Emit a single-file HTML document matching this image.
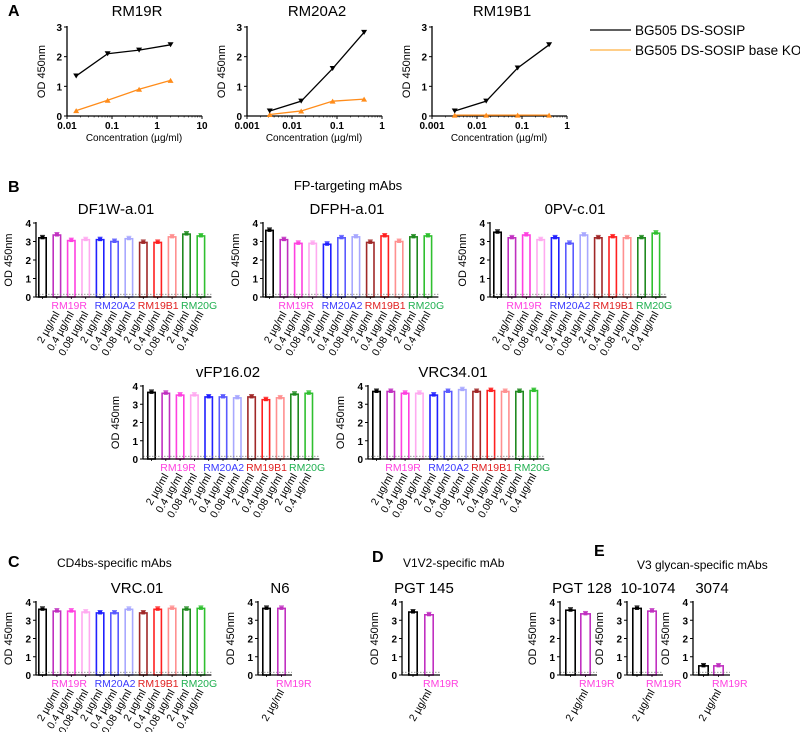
<!DOCTYPE html>
<html><head><meta charset="utf-8"><style>
html,body{margin:0;padding:0;background:#fff}
svg{display:block;font-family:"Liberation Sans",Arial,sans-serif}
</style></head><body>
<svg id="fig" width="800" height="732" viewBox="0 0 800 732"></svg>
<script>
// ---------- Panel A data ----------
const concRM19R = [0.016, 0.08, 0.4, 2];
const concLow = [0.0032, 0.016, 0.08, 0.4];
const rm19rWT = [1.35, 2.1, 2.22, 2.4];
const rm19rKO = [0.18, 0.53, 0.9, 1.2];
const rm20a2WT = [0.17, 0.5, 1.6, 2.82];
const rm20a2KO = [0.05, 0.17, 0.5, 0.57];
const rm19b1WT = [0.17, 0.5, 1.62, 2.4];
const rm19b1KO = [0.03, 0.03, 0.03, 0.03];
const ticksA1 = ["0.01","0.1","1","10"];
const ticksA2 = ["0.001","0.01","0.1","1"];
const yTicksA = [0,1,2,3];
// ---------- Bar data ----------
const concLabels = ["2 µg/ml","0.4 µg/ml","0.08 µg/ml","2 µg/ml","0.4 µg/ml","0.08 µg/ml","2 µg/ml","0.4 µg/ml","0.08 µg/ml","2 µg/ml","0.4 µg/ml"];
const groupNames = ["RM19R","RM20A2","RM19B1","RM20G"];
const groupStart = [1,4,7,10];
const yTicksB = [0,1,2,3,4];
const df1w = [3.2,3.35,3.05,3.1,3.1,3.0,3.15,2.95,2.95,3.25,3.4,3.3];
const dfph = [3.6,3.1,2.9,2.9,2.85,3.2,3.25,2.95,3.3,3.0,3.25,3.3];
const opv = [3.5,3.2,3.35,3.1,3.2,2.9,3.35,3.2,3.25,3.2,3.2,3.45];
const vfp16 = [3.65,3.6,3.5,3.5,3.4,3.4,3.35,3.4,3.25,3.35,3.55,3.6];
const vrc34 = [3.7,3.7,3.6,3.6,3.5,3.7,3.8,3.7,3.75,3.7,3.7,3.75];
const vrc01 = [3.6,3.5,3.5,3.45,3.4,3.4,3.6,3.4,3.6,3.65,3.6,3.65];
const n6 = [3.65,3.65];
const pgt145 = [3.45,3.3];
const pgt128 = [3.55,3.35];
const v101074 = [3.65,3.5];
const v3074 = [0.5,0.5];
const baseline = 0.15;

const NS="http://www.w3.org/2000/svg";
const svg=document.getElementById('fig');
function mk(tag,attrs,parent){const e=document.createElementNS(NS,tag);for(const k in attrs)e.setAttribute(k,attrs[k]);(parent||svg).appendChild(e);return e;}
function txt(s,x,y,size,opts,parent){opts=opts||{};const e=mk('text',{x:x,y:y,'font-size':size,'text-anchor':opts.anchor||'middle',fill:opts.fill||'#000','font-weight':opts.bold?'bold':'normal'},parent);if(opts.rot)e.setAttribute('transform','rotate('+opts.rot+' '+x+' '+y+')');if(opts.ls)e.setAttribute('letter-spacing',opts.ls);e.textContent=s;return e;}

const barColors=["#000","#c030c0","#ff40e0","#ffaaf0","#2020ff","#5a5aff","#a8a8ff","#a02828","#ff2020","#ff9090","#208a20","#30c030"];
const groupColors=["#ff40e0","#3a3aff","#e02020","#20b050"];

// ---------- headings ----------
function head(s,x,y,size,bold,name){const t=txt(s,x,y,size,{anchor:'start',bold:bold});}
head("A",8,16,16,true,'panel-a-label');
head("B",8,192,16,true,'panel-b-label');
head("C",8,567,16,true,'panel-c-label');
head("D",372,562,16,true,'panel-d-label');
head("E",594,556,16,true,'panel-e-label');
{const t=txt("FP-targeting mAbs",348,190,13);}
head("CD4bs-specific mAbs",57,567,12,false,'panel-c-heading');
head("V1V2-specific mAb",403,567,12,false,'panel-d-heading');
head("V3 glycan-specific mAbs",637,569,12,false,'panel-e-heading');

// ---------- line charts ----------
function lineChart(name,title,ax,decMin,ticks,xs,wt,ko){
  const g=mk('g',{});
  const y0=116,y3=27,dec=45;
  const X=v=>ax+(Math.log10(v)-decMin)*dec;
  const Y=v=>y0-(v/3)*(y0-y3);
  const tt=txt(title,ax+70,16,15,{},g);
  mk('line',{x1:ax,y1:y3-1,x2:ax,y2:y0,stroke:'#000','stroke-width':1.3},g);
  mk('line',{x1:ax,y1:y0,x2:ax+3*dec,y2:y0,stroke:'#000','stroke-width':1.3},g);
  yTicksA.forEach(v=>{mk('line',{x1:ax-3,y1:Y(v),x2:ax,y2:Y(v),stroke:'#000'},g);txt(String(v),ax-5,Y(v)+4,10,{anchor:'end',bold:true},g);});
  ticks.forEach((s,i)=>{const x=ax+i*dec;mk('line',{x1:x,y1:y0,x2:x,y2:y0+3,stroke:'#000'},g);txt(s,x,y0+13,10,{bold:true},g);
    for(let m=2;m<10&&i<ticks.length-1;m++){const xm=x+Math.log10(m)*dec;mk('line',{x1:xm,y1:y0,x2:xm,y2:y0+1.5,stroke:'#000','stroke-width':0.6},g);}});
  txt("Concentration (µg/ml)",ax+67,y0+25,10,{},g);
  txt("OD 450nm",ax-22,(y0+y3)/2,11,{rot:-90},g);
  const series=[[ko,'#ff8c1a','up'],[wt,'#000','down']];
  series.forEach(([vals,col,dir])=>{
    const pts=xs.map((c,i)=>X(c)+','+Y(vals[i])).join(' ');
    const pl=mk('polyline',{points:pts,fill:'none',stroke:col,'stroke-width':1.3},g);
    
    
    xs.forEach((c,i)=>{const x=X(c),y=Y(vals[i]);
      const p=dir==='down'?`${x-3},${y-2.5} ${x+3},${y-2.5} ${x},${y+2.5}`:`${x-3},${y+2.5} ${x+3},${y+2.5} ${x},${y-2.5}`;
      const m=mk('polygon',{points:p,fill:col},g);
      
      });
  });
}
lineChart('chart-rm19r',"RM19R",67,-2,ticksA1,concRM19R,rm19rWT,rm19rKO);
lineChart('chart-rm20a2',"RM20A2",247,-3,ticksA2,concLow,rm20a2WT,rm20a2KO);
lineChart('chart-rm19b1',"RM19B1",432,-3,ticksA2,concLow,rm19b1WT,rm19b1KO);
// legend
{const g=mk('g',{});
 mk('line',{x1:590,y1:30,x2:631,y2:30,stroke:'#000','stroke-width':1.3},g);
 txt("BG505 DS-SOSIP",635,35,13.5,{anchor:'start'},g);
 mk('line',{x1:590,y1:50,x2:631,y2:50,stroke:'#ffb040','stroke-width':1.3},g);
 txt("BG505 DS-SOSIP base KO",635,55,13.5,{anchor:'start'},g);}

// ---------- bar charts ----------
function barChart(name,title,titleX,ax,y0,y4,values,opts){
  opts=opts||{};
  const g=mk('g',{});
  const pitch=opts.pitch||14.4,bw=opts.bw||9,first=ax+(opts.gap||2);
  const Y=v=>y0-(v/4)*(y0-y4);
  const n=values.length;
  const end=first+(n-1)*pitch+bw+6;
  const tt=txt(title,titleX,y4-9,15,{},g);
  txt("OD 450nm",ax-24,(y0+y4)/2,11,{rot:-90},g);
  yTicksB.forEach(v=>{mk('line',{x1:ax-3,y1:Y(v),x2:ax,y2:Y(v),stroke:'#000'},g);txt(String(v),ax-5,Y(v)+4,10,{anchor:'end',bold:true},g);});
  values.forEach((v,i)=>{
    const x=first+i*pitch,col=barColors[i];
    const r=mk('rect',{x:x+0.8,y:Y(v),width:bw-1.6,height:y0-Y(v),fill:'none',stroke:col,'stroke-width':1.6},g);
    
    
    mk('rect',{x:x+bw/2-2,y:Y(v)-2,width:4,height:3.5,fill:col},g);
    mk('line',{x1:x+bw/2-2.5,y1:Y(v)-2.5,x2:x+bw/2+2.5,y2:Y(v)-2.5,stroke:col,'stroke-width':0.8},g);
    mk('line',{x1:x+bw/2,y1:y0,x2:x+bw/2,y2:y0+2,stroke:'#000','stroke-width':0.8},g);
    if(i>0){const lb=concLabels[i-1];const cx=x+bw/2+3,cy=y0+17;txt(lb,cx,cy,10.5,{anchor:'end',rot:-60},g);}
  });
  mk('line',{x1:ax,y1:Y(baseline),x2:end,y2:Y(baseline),stroke:'#777','stroke-width':0.8,'stroke-dasharray':'1.5,1.5'},g);
  mk('line',{x1:ax,y1:y4-1,x2:ax,y2:y0,stroke:'#000','stroke-width':1.3},g);
  mk('line',{x1:ax,y1:y0,x2:end,y2:y0,stroke:'#000','stroke-width':1.3},g);
  groupNames.forEach((s,k)=>{const i=groupStart[k];if(i<n){const gl=txt(s,first+i*pitch-1,y0+12,10.5,{anchor:'start',fill:groupColors[k]},g);}});
}
barChart('chart-df1w',"DF1W-a.01",116,36,297,223,df1w);
barChart('chart-dfph',"DFPH-a.01",347,263,297,223,dfph);
barChart('chart-0pv',"0PV-c.01",575,490,297,223,opv,{gap:3});
barChart('chart-vfp16',"vFP16.02",228,143,459,386,vfp16,{gap:4,pitch:14.3});
barChart('chart-vrc34',"VRC34.01",453,368,459,386,vrc34,{gap:4,pitch:14.3});
barChart('chart-vrc01',"VRC.01",137,36,675,602,vrc01,{gap:2});
barChart('chart-n6',"N6",280,258,675,602,n6,{pitch:15,gap:4});
barChart('chart-pgt145',"PGT 145",424,402,675,602,pgt145,{pitch:16,bw:10,gap:6});
barChart('chart-pgt128',"PGT 128",582,560,675,602,pgt128,{pitch:15,bw:11,gap:5});
barChart('chart-10-1074',"10-1074",648,627,675,602,v101074,{pitch:15,bw:10,gap:5});
barChart('chart-3074',"3074",712,693,675,602,v3074,{pitch:15,bw:11,gap:5});
</script>
</body></html>
